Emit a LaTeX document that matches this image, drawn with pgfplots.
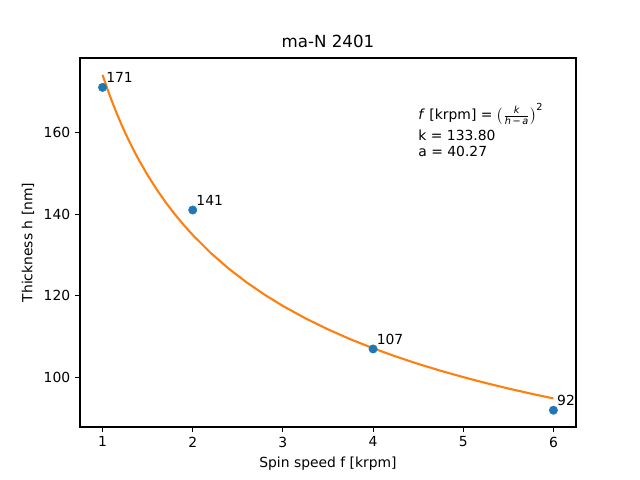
\documentclass[border=0pt]{standalone}
\usepackage{fontspec}
\setmainfont{DejaVu Sans}
\usepackage{pgfplots}
\pgfplotsset{compat=1.18}
\definecolor{cA}{HTML}{1F77B4}
\definecolor{cB}{HTML}{FF7F0E}
\begin{document}
\begin{tikzpicture}
\path[use as bounding box] (-57.6pt,-38.16pt) rectangle (403.2pt,307.44pt);
\begin{axis}[
  at={(0pt,0pt)}, anchor=south west,
  scale only axis, width=357.1pt, height=265.7pt,
  xmin=0.75, xmax=6.25, ymin=87.9, ymax=178.2,
  xtick={1,2,3,4,5,6}, ytick={100,120,140,160},
  tick align=outside, xtick pos=bottom, ytick pos=left,
  major tick length=3.5pt,
  every tick/.style={black, line width=0.8pt},
  axis line style={line width=0.8pt},
  tick label style={font=\fontsize{10}{12}\selectfont},
  /pgf/number format/assume math mode=true,
  title={ma-N 2401},
  title style={font=\fontsize{12}{14}\selectfont, yshift=-2pt},
  xlabel={Spin speed f [krpm]},
  ylabel={Thickness h [nm]},
  label style={font=\fontsize{10}{12}\selectfont},
  clip=false,
]
\addplot[only marks, mark=*, mark size=3pt, mark options={draw=cA, fill=cA}, color=cA] coordinates {
(1,171) (2,141) (4,107) (6,92)
};
\addplot[cB, line width=1.5pt, no marks] coordinates {
(1.0,174.07) (1.05,170.84) (1.1,167.84) (1.15,165.04) (1.2,162.41) (1.25,159.94) (1.3,157.62) (1.35,155.43) (1.4,153.35) (1.5,149.52) (1.6,146.05) (1.7,142.89) (1.8,140.00) (1.9,137.34) (2.0,134.88) (2.2,130.48) (2.4,126.64) (2.6,123.25) (2.8,120.23) (3.0,117.52) (3.25,114.49) (3.5,111.79) (3.75,109.36) (4.0,107.17) (4.25,105.17) (4.5,103.34) (4.75,101.66) (5.0,100.11) (5.25,98.66) (5.5,97.32) (5.75,96.07) (6.0,94.89)
};
\node[anchor=south west, inner sep=0pt, xshift=2.5pt, yshift=3pt, font=\fontsize{10}{12}\selectfont] at (axis cs:1,171) {171};
\node[anchor=south west, inner sep=0pt, xshift=2.5pt, yshift=3pt, font=\fontsize{10}{12}\selectfont] at (axis cs:2,141) {141};
\node[anchor=south west, inner sep=0pt, xshift=2.5pt, yshift=3pt, font=\fontsize{10}{12}\selectfont] at (axis cs:4,107) {107};
\node[anchor=south west, inner sep=0pt, xshift=2.5pt, yshift=3pt, font=\fontsize{10}{12}\selectfont] at (axis cs:6,92) {92};
\node[anchor=base west, inner sep=0pt, font=\fontsize{10}{12}\selectfont] at (axis cs:4.5,163.2) {\textit{f} [krpm] = $\bigl(\frac{\mbox{\fontsize{7}{8}\selectfont\itshape k}}{\mbox{\fontsize{7}{8}\selectfont\itshape h\,\upshape−\,\itshape a}}\bigr)^{\mbox{\fontsize{7}{8}\selectfont 2}}$};
\node[anchor=base west, inner sep=0pt, font=\fontsize{10}{12}\selectfont] at (axis cs:4.5,158.06) {k = 133.80};
\node[anchor=base west, inner sep=0pt, font=\fontsize{10}{12}\selectfont] at (axis cs:4.5,154.17) {a = 40.27};
\end{axis}
\end{tikzpicture}
\end{document}
